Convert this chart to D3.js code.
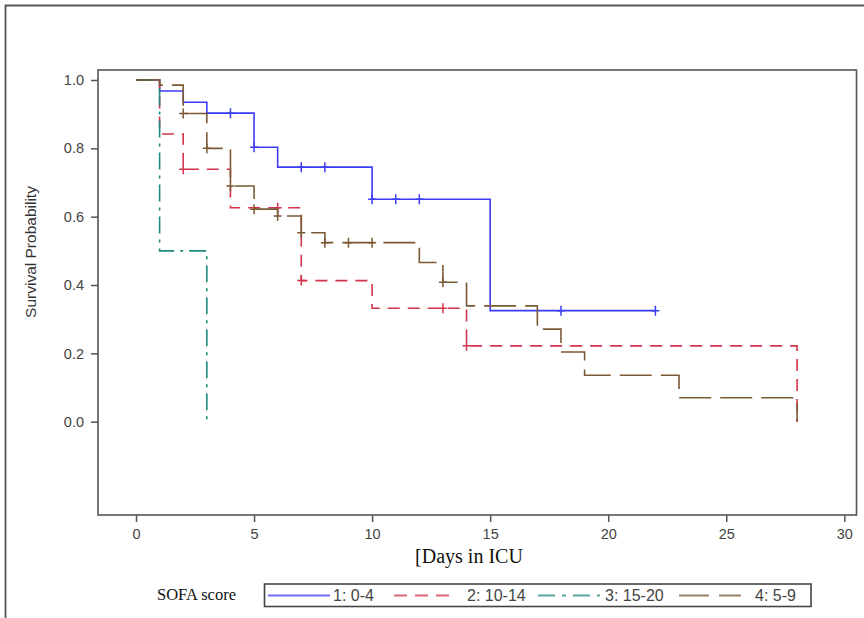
<!DOCTYPE html>
<html>
<head>
<meta charset="utf-8">
<script src="https://cdn.jsdelivr.net/npm/d3@7"></script>
<style>
  html, body { margin: 0; padding: 0; background: #fff; }
  svg { display: block; }
</style>
</head>
<body>
<svg id="chart" width="864" height="618"></svg>
<script>
// ---- Data ----
const xTicks = [0, 5, 10, 15, 20, 25, 30];
const yTicks = [0.0, 0.2, 0.4, 0.6, 0.8, 1.0];

const seriesNames = ["1: 0-4", "2: 10-14", "3: 15-20", "4: 5-9"];

const blueTimes  = [0, 1, 2, 3, 5, 6, 10, 15];
const blueSurv   = [1, 0.968, 0.935, 0.903, 0.803, 0.745, 0.651, 0.325];
const blueEnd    = 22;
const blueCensor = [4, 5, 7, 8, 10, 11, 12, 18, 22];

const redTimes  = [0, 1, 2, 4, 7, 10, 14, 28];
const redSurv   = [1, 0.842, 0.739, 0.626, 0.413, 0.332, 0.222, 0];
const redEnd    = 28;
const redCensor = [2, 6, 7, 13, 14];

const tealTimes  = [0, 1, 3];
const tealSurv   = [1, 0.5, 0];
const tealEnd    = 3;
const tealCensor = [];

const brownTimes  = [0, 1, 2, 3, 4, 5, 6, 7, 8, 12, 13, 14, 17, 18, 19, 23, 28];
const brownSurv   = [1, 0.985, 0.902, 0.80, 0.69, 0.622, 0.602, 0.553, 0.524, 0.466, 0.408, 0.339, 0.271, 0.204, 0.136, 0.070, 0];
const brownEnd    = 28;
const brownCensor = [2, 3, 4, 5, 6, 7, 8, 9, 10, 13];

// ---- Styles ----
const colors = ["#3b3bf5", "#d3334a", "#1f8a80", "#7a5a35"];
const dashes = [null, "12,8", "17,6,3,6", "32,9"];

const series = [
  {name: seriesNames[0], t: blueTimes, s: blueSurv, end: blueEnd, c: blueCensor},
  {name: seriesNames[1], t: redTimes, s: redSurv, end: redEnd, c: redCensor},
  {name: seriesNames[2], t: tealTimes, s: tealSurv, end: tealEnd, c: tealCensor},
  {name: seriesNames[3], t: brownTimes, s: brownSurv, end: brownEnd, c: brownCensor}
];

const svg = d3.select("#chart");

// outer border
svg.append("path")
  .attr("d", "M5.5,620 L5.5,5.5 L866,5.5")
  .attr("fill", "none").attr("stroke", "#555").attr("stroke-width", 1.8);

const x = d3.scaleLinear().domain([0, 30]).range([136, 844.3]);
const y = d3.scaleLinear().domain([0, 1]).range([421.7, 80]);

const frame = {l: 98, t: 70, r: 856.5, b: 515};

// axes
const yAxis = d3.axisLeft(y).tickValues(yTicks).tickFormat(d3.format(".1f"))
  .tickSize(7).tickPadding(7);
const gy = svg.append("g").attr("transform", `translate(${frame.l},0)`).call(yAxis);
gy.select(".domain").remove();

const xAxis = d3.axisBottom(x).tickValues(xTicks).tickFormat(d3.format("d"))
  .tickSize(7).tickPadding(7);
const gx = svg.append("g").attr("transform", `translate(0,${frame.b})`).call(xAxis);
gx.select(".domain").remove();

[gx, gy].forEach(g => {
  g.selectAll("line").attr("stroke", "#555").attr("stroke-width", 1.5);
  g.selectAll("text").attr("fill", "#444")
    .style("font-family", "'Liberation Sans', Arial, sans-serif")
    .style("font-size", "14.5px");
});

// frame
svg.append("rect")
  .attr("x", frame.l).attr("y", frame.t)
  .attr("width", frame.r - frame.l).attr("height", frame.b - frame.t)
  .attr("fill", "none").attr("stroke", "#555").attr("stroke-width", 1.6);

// step curves
function stepPoints(d) {
  const pts = [];
  for (let i = 0; i < d.t.length; i++) {
    if (i > 0) pts.push([d.t[i], d.s[i - 1]]);
    pts.push([d.t[i], d.s[i]]);
  }
  const last = d.s[d.s.length - 1];
  if (d.end > d.t[d.t.length - 1]) pts.push([d.end, last]);
  return pts;
}
function survAt(d, time) {
  let v = d.s[0];
  for (let i = 0; i < d.t.length; i++) if (d.t[i] <= time) v = d.s[i];
  return v;
}

const line = d3.line().x(p => x(p[0])).y(p => y(p[1]));

series.forEach((d, i) => {
  const g = svg.append("g");
  g.append("path")
    .attr("d", line(stepPoints(d)))
    .attr("fill", "none")
    .attr("stroke", colors[i])
    .attr("stroke-width", 1.6)
    .attr("stroke-dasharray", dashes[i]);
  g.selectAll("path.cens").data(d.c).enter().append("path")
    .attr("class", "cens")
    .attr("d", tc => {
      const cx = x(tc), cy = y(survAt(d, tc));
      return `M${cx - 4},${cy} L${cx + 4},${cy} M${cx},${cy - 5} L${cx},${cy + 5}`;
    })
    .attr("fill", "none").attr("stroke", colors[i]).attr("stroke-width", 1.5);
});

// axis titles
svg.append("text")
  .attr("transform", "translate(36,252) rotate(-90)")
  .attr("text-anchor", "middle")
  .attr("fill", "#333")
  .style("font-family", "'Liberation Sans', Arial, sans-serif")
  .style("font-size", "15.5px")
  .text("Survival Probability");

svg.append("text")
  .attr("x", 469).attr("y", 563)
  .attr("text-anchor", "middle")
  .attr("fill", "#111")
  .style("font-family", "'Liberation Serif', 'Times New Roman', serif")
  .style("font-size", "20px")
  .text("[Days in ICU");

// legend
svg.append("text")
  .attr("x", 157).attr("y", 600)
  .attr("fill", "#111")
  .style("font-family", "'Liberation Serif', 'Times New Roman', serif")
  .style("font-size", "16.5px")
  .text("SOFA score");

svg.append("rect")
  .attr("x", 264.5).attr("y", 584).attr("width", 546.5).attr("height", 22.5)
  .attr("fill", "none").attr("stroke", "#444").attr("stroke-width", 1.6);

const legX = [268, 394, 538, 679];
const legTextX = [333, 467, 605, 755];
series.forEach((d, i) => {
  svg.append("line")
    .attr("x1", legX[i]).attr("x2", legX[i] + 62)
    .attr("y1", 595.5).attr("y2", 595.5)
    .attr("stroke", colors[i]).attr("stroke-width", 2).attr("stroke-opacity", 0.75)
    .attr("stroke-dasharray", i === 1 ? "13,8" : i === 2 ? "17,7,4,7" : i === 3 ? "30,10" : null);
  svg.append("text")
    .attr("x", legTextX[i]).attr("y", 601)
    .attr("fill", "#444")
    .style("font-family", "'Liberation Sans', Arial, sans-serif")
    .style("font-size", "16px")
    .text(d.name);
});
</script>
</body>
</html>
